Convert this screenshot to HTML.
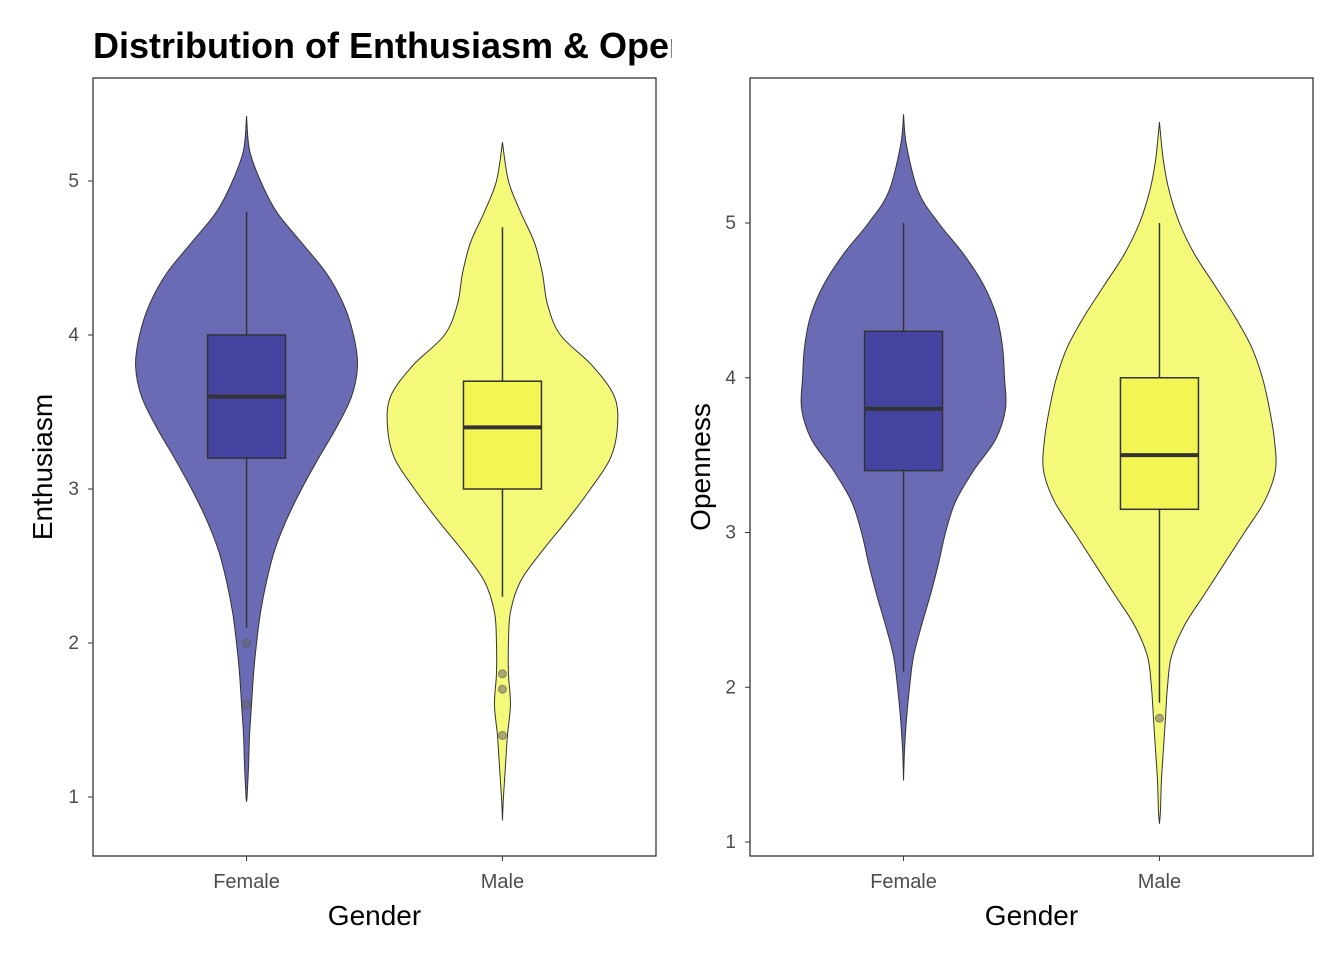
<!DOCTYPE html>
<html><head><meta charset="utf-8">
<style>body{margin:0;background:#fff}svg{display:block;font-family:"Liberation Sans",Arial,sans-serif}</style>
</head><body>
<svg id="chart" width="1344" height="960" viewBox="0 0 1344 960">
<defs><clipPath id="titleclip"><rect x="0" y="0" width="672" height="80"/></clipPath></defs>
<text x="93" y="58" font-size="36" font-weight="bold" fill="#000" clip-path="url(#titleclip)">Distribution of Enthusiasm &amp; Openness by Gender</text>
</svg>
<script>
const categories = ["Female","Male"];
const yTicks = [1,2,3,4,5];
// Violins: [value, density half-width (px)]
const enthFemaleDensity = [[5.42,0],[5.2,3],[5.0,14],[4.8,30],[4.6,55],[4.4,80],[4.2,97],[4.0,107],[3.8,111],[3.6,105],[3.4,90],[3.2,72],[3.0,55],[2.8,40],[2.6,28],[2.4,20],[2.2,14],[2.0,10],[1.8,7],[1.6,5],[1.4,3],[1.2,2],[1.0,0.5],[0.97,0]];
const enthMaleDensity = [[5.25,0],[5.0,6],[4.8,18],[4.6,32],[4.4,40],[4.2,45],[4.0,58],[3.8,90],[3.6,112],[3.4,115],[3.2,108],[3.0,88],[2.8,65],[2.6,40],[2.4,18],[2.2,8],[2.0,6],[1.8,6],[1.6,8],[1.4,5],[1.2,3],[1.0,1],[0.85,0]];
const openFemaleDensity = [[5.7,0],[5.5,3],[5.2,15],[5.0,35],[4.8,60],[4.6,80],[4.4,93],[4.2,99],[4.0,101],[3.8,102],[3.6,92],[3.4,70],[3.2,52],[3.0,42],[2.8,35],[2.6,27],[2.4,18],[2.2,10],[2.0,6],[1.8,3],[1.6,1],[1.4,0]];
const openMaleDensity = [[5.65,0],[5.4,4],[5.2,10],[5.0,20],[4.8,35],[4.6,55],[4.4,75],[4.2,92],[4.0,103],[3.8,110],[3.6,115],[3.4,116],[3.2,105],[3.0,85],[2.8,65],[2.6,45],[2.4,25],[2.2,12],[2.0,8],[1.8,6],[1.6,4],[1.4,2],[1.2,1],[1.12,0]];
// box stats: [lowWhisker, q1, median, q3, highWhisker]
const enthBoxes = [[2.1,3.2,3.6,4.0,4.8],[2.3,3.0,3.4,3.7,4.7]];
const openBoxes = [[2.1,3.4,3.8,4.3,5.0],[1.9,3.15,3.5,4.0,5.0]];
const enthOutliers = [[2.0,1.6],[1.8,1.7,1.4]];
const openOutliers = [[],[1.8]];

const NS="http://www.w3.org/2000/svg";
const svg=document.getElementById('chart');
function mk(tag,attrs,parent){const e=document.createElementNS(NS,tag);for(const k in attrs)e.setAttribute(k,attrs[k]);(parent||svg).appendChild(e);return e;}
const violinFill=["#6b6bb5","#f5f97a"], boxFill=["#4444a0","#f3f552"];
function smoothPath(pts){
  let d='M'+pts[0][0]+','+pts[0][1];
  for(let i=0;i<pts.length-1;i++){
    const p0=pts[Math.max(0,i-1)],p1=pts[i],p2=pts[i+1],p3=pts[Math.min(pts.length-1,i+2)];
    const c1=[p1[0]+(p2[0]-p0[0])/6,p1[1]+(p2[1]-p0[1])/6];
    const c2=[p2[0]-(p3[0]-p1[0])/6,p2[1]-(p3[1]-p1[1])/6];
    d+=` C${c1[0]},${c1[1]} ${c2[0]},${c2[1]} ${p2[0]},${p2[1]}`;
  }
  return d;
}
function panel(p){
  const g=mk('g',{});
  
  
  const y=v=>p.y1-(v-1)*(p.y1-p.y5)/4;
  const W=p.x1-p.x0;
  const x=i=>p.x0+(i+0.6)/2.2*W;
  const wscale=(W/2.2)/256;
  p.dens.forEach((d,i)=>{
    const cx=x(i);
    const right=d.map(q=>[cx+q[1]*wscale,y(q[0])]);
    const left=d.slice().reverse().map(q=>[cx-q[1]*wscale,y(q[0])]);
    const v=mk('path',{d:smoothPath(right)+' L'+smoothPath(left).slice(1)+' Z',fill:violinFill[i],stroke:'#333',"stroke-width":1,"stroke-linejoin":"round"},g);
    
    
    const b=p.boxes[i], hw=39*wscale;
    const wl=mk('line',{x1:cx,x2:cx,y1:y(b[0]),y2:y(b[4]),stroke:'#333',"stroke-width":1.5},g);
    
    
    const r=mk('rect',{x:cx-hw,y:y(b[3]),width:2*hw,height:y(b[1])-y(b[3]),fill:boxFill[i],stroke:'#333',"stroke-width":1.5},g);
    
    
    const m=mk('line',{x1:cx-hw,x2:cx+hw,y1:y(b[2]),y2:y(b[2]),stroke:'#333',"stroke-width":4},g);
    
    
    p.outs[i].forEach(o=>{
      const c=mk('circle',{cx:cx,cy:y(o),r:4,fill:'#666',"fill-opacity":0.55,stroke:'#555',"stroke-opacity":0.6},g);
      
      
    });
  });
  const fr=mk('rect',{x:p.x0,y:78,width:W,height:856-78,fill:'none',stroke:'#333',"stroke-width":1.3},g);
  
  
  yTicks.forEach(t=>{
    mk('line',{x1:p.x0-5,x2:p.x0,y1:y(t),y2:y(t),stroke:'#333'},g);
    const tl=mk('text',{x:p.x0-14,y:y(t)+6,"text-anchor":"end","font-size":19,fill:'#4d4d4d'},g);
    tl.textContent=t;
    
    
  });
  categories.forEach((c,i)=>{
    mk('line',{x1:x(i),x2:x(i),y1:856,y2:861,stroke:'#333'},g);
    const tl=mk('text',{x:x(i),y:888,"text-anchor":"middle","font-size":20,fill:'#4d4d4d'},g);
    tl.textContent=c;
    
    
  });
  const xt=mk('text',{x:(p.x0+p.x1)/2,y:925,"text-anchor":"middle","font-size":28,fill:'#000'},g);
  xt.textContent='Gender';
  
  
  const yt=mk('text',{x:0,y:0,"text-anchor":"middle","font-size":28,fill:'#000',transform:`translate(${p.ylx},467) rotate(-90)`},g);
  yt.textContent=p.ylabel;
  
  
}
panel({name:'enthusiasm',x0:93,x1:656,y1:797,y5:181,dens:[enthFemaleDensity,enthMaleDensity],boxes:enthBoxes,outs:enthOutliers,ylabel:'Enthusiasm',ylx:52});
panel({name:'openness',x0:750,x1:1313,y1:842,y5:223,dens:[openFemaleDensity,openMaleDensity],boxes:openBoxes,outs:openOutliers,ylabel:'Openness',ylx:710});
</script>
</body></html>
